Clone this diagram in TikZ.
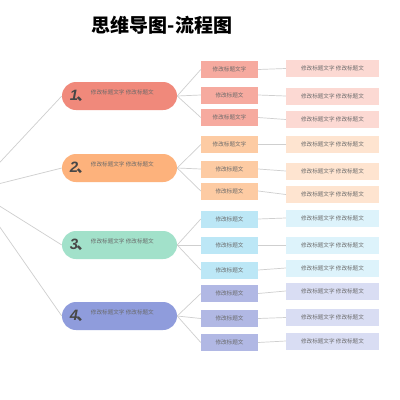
\documentclass[tikz,border=0pt]{standalone}
\usepackage{fontspec}
\setmainfont{Noto Sans CJK SC}
\newfontfamily\numfont{Liberation Sans}
\usetikzlibrary{positioning}
\definecolor{linegray}{HTML}{CFCFCF}
\definecolor{txtgray}{HTML}{6A6A6A}
\definecolor{numgray}{HTML}{474747}
\definecolor{pillA}{HTML}{F0897B}
\definecolor{pillB}{HTML}{FDB27C}
\definecolor{pillC}{HTML}{A2E1CA}
\definecolor{pillD}{HTML}{8F9CDC}
\definecolor{midA}{HTML}{F6AA9F}
\definecolor{midB}{HTML}{FDCBA3}
\definecolor{midC}{HTML}{BCE7F6}
\definecolor{midD}{HTML}{B1B8E4}
\definecolor{sideA}{HTML}{FCD9D3}
\definecolor{sideB}{HTML}{FEE4D0}
\definecolor{sideC}{HTML}{DDF3FB}
\definecolor{sideD}{HTML}{D9DDF3}

\begin{document}
\begin{tikzpicture}[x=1pt, y=-1pt,
  pill/.style={rounded corners=14pt, minimum width=115pt, minimum height=28pt, inner sep=0pt},
  midbox/.style={minimum width=57pt, minimum height=17pt, inner sep=0pt, text=txtgray, font=\fontsize{5.6}{6}\selectfont},
  sidebox/.style={minimum width=93pt, minimum height=17pt, inner sep=0pt, text=txtgray, font=\fontsize{5.6}{6}\selectfont},
  num/.style={anchor=west, inner sep=0pt, text=numgray, font=\fontsize{15}{15}\selectfont\bfseries},
  pilltext/.style={anchor=west, inner sep=0pt, text=txtgray, font=\fontsize{5.6}{6}\selectfont},
  link/.style={draw=linegray, line width=0.7pt}]
\useasboundingbox (0,0) rectangle (400,400);
\clip (0,0) rectangle (400,400);
\fill[white] (0,0) rectangle (400,400);

\node (title) at (162,25) {\fontsize{19}{19}\selectfont\bfseries 思维导图-流程图};
\coordinate (root) at (-26,190);

\node (p1) [pill, fill=pillA] at (119.5,96) {};
\node (p2) [pill, fill=pillB] at (119.5,168) {};
\node (p3) [pill, fill=pillC] at (119.5,245) {};
\node (p4) [pill, fill=pillD] at (119.5,316) {};
\node (n1) [num] at ([xshift=8pt]p1.west) {{\numfont\itshape 1}\kern-2pt、};
\node (n2) [num] at ([xshift=8pt]p2.west) {{\numfont\itshape 2}\kern-2pt、};
\node (n3) [num] at ([xshift=8pt]p3.west) {{\numfont\itshape 3}\kern-2pt、};
\node (n4) [num] at ([xshift=8pt]p4.west) {{\numfont\itshape 4}\kern-2pt、};
\node (t1) [pilltext] at ([xshift=29pt,yshift=4pt]p1.west) {修改标题文字\ 修改标题文};
\node (t2) [pilltext] at ([xshift=29pt,yshift=4pt]p2.west) {修改标题文字\ 修改标题文};
\node (t3) [pilltext] at ([xshift=29pt,yshift=4pt]p3.west) {修改标题文字\ 修改标题文};
\node (t4) [pilltext] at ([xshift=29pt,yshift=4pt]p4.west) {修改标题文字\ 修改标题文};

\node (m11) [midbox, fill=midA] at (229.5,69.5) {修改标题文字};
\node (m12) [midbox, fill=midA] at (229.5,95) {修改标题文};
\node (m13) [midbox, fill=midA] at (229.5,117.5) {修改标题文字};
\node (m21) [midbox, fill=midB] at (229.5,144.5) {修改标题文字};
\node (m22) [midbox, fill=midB] at (229.5,169) {修改标题文};
\node (m23) [midbox, fill=midB] at (229.5,191) {修改标题文};
\node (m31) [midbox, fill=midC] at (229.5,219) {修改标题文};
\node (m32) [midbox, fill=midC] at (229.5,245) {修改标题文};
\node (m33) [midbox, fill=midC] at (229.5,270) {修改标题文};
\node (m41) [midbox, fill=midD] at (229.5,293.5) {修改标题文};
\node (m42) [midbox, fill=midD] at (229.5,318.5) {修改标题文};
\node (m43) [midbox, fill=midD] at (229.5,342.5) {修改标题文};

\node (s11) [sidebox, fill=sideA] at (332.5,68.5) {修改标题文字\ 修改标题文};
\node (s12) [sidebox, fill=sideA] at (332.5,96) {修改标题文字\ 修改标题文};
\node (s13) [sidebox, fill=sideA] at (332.5,119.5) {修改标题文字\ 修改标题文};
\node (s21) [sidebox, fill=sideB] at (332.5,144.5) {修改标题文字\ 修改标题文};
\node (s22) [sidebox, fill=sideB] at (332.5,171) {修改标题文字\ 修改标题文};
\node (s23) [sidebox, fill=sideB] at (332.5,194.5) {修改标题文字\ 修改标题文};
\node (s31) [sidebox, fill=sideC] at (332.5,218) {修改标题文字\ 修改标题文};
\node (s32) [sidebox, fill=sideC] at (332.5,245) {修改标题文字\ 修改标题文};
\node (s33) [sidebox, fill=sideC] at (332.5,268) {修改标题文字\ 修改标题文};
\node (s41) [sidebox, fill=sideD] at (332.5,291) {修改标题文字\ 修改标题文};
\node (s42) [sidebox, fill=sideD] at (332.5,317.5) {修改标题文字\ 修改标题文};
\node (s43) [sidebox, fill=sideD] at (332.5,341) {修改标题文字\ 修改标题文};

\draw[link] (root) -- (p1.west);
\draw[link] (root) -- (p2.west);
\draw[link] (root) -- (p3.west);
\draw[link] (root) -- (p4.west);

\draw[link] (p1.east) -- (m11.west);
\draw[link] (p1.east) -- (m12.west);
\draw[link] (p1.east) -- (m13.west);
\draw[link] (p2.east) -- (m21.west);
\draw[link] (p2.east) -- (m22.west);
\draw[link] (p2.east) -- (m23.west);
\draw[link] (p3.east) -- (m31.west);
\draw[link] (p3.east) -- (m32.west);
\draw[link] (p3.east) -- (m33.west);
\draw[link] (p4.east) -- (m41.west);
\draw[link] (p4.east) -- (m42.west);
\draw[link] (p4.east) -- (m43.west);

\draw[link] (m11.east) -- (s11.west);
\draw[link] (m12.east) -- (s12.west);
\draw[link] (m13.east) -- (s13.west);
\draw[link] (m21.east) -- (s21.west);
\draw[link] (m22.east) -- (s22.west);
\draw[link] (m23.east) -- (s23.west);
\draw[link] (m31.east) -- (s31.west);
\draw[link] (m32.east) -- (s32.west);
\draw[link] (m33.east) -- (s33.west);
\draw[link] (m41.east) -- (s41.west);
\draw[link] (m42.east) -- (s42.west);
\draw[link] (m43.east) -- (s43.west);
\end{tikzpicture}
\end{document}
